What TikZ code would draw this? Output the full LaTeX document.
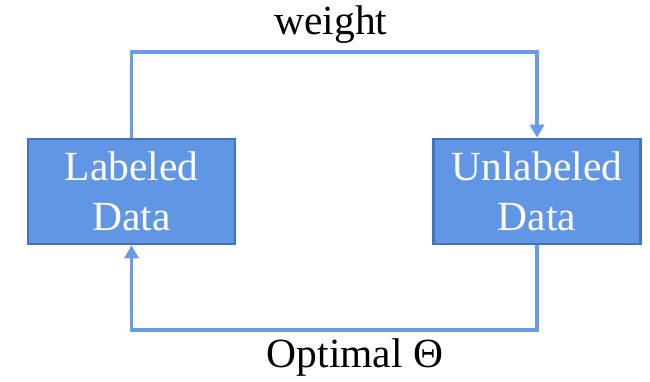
\documentclass[tikz,border=0pt]{standalone}
\usepackage{fontspec}
\setmainfont{Liberation Serif}
\usetikzlibrary{arrows.meta}
\definecolor{boxfill}{RGB}{96,150,228}
\definecolor{boxline}{RGB}{70,114,188}
\definecolor{conn}{RGB}{104,156,232}
\tikzset{
  databox/.style={draw=boxline, line width=2.6pt, fill=boxfill, text=white,
    minimum width=207pt, minimum height=105pt, align=center, inner sep=0pt,
    font=\fontsize{41.5}{50}\selectfont},
  conn/.style={draw=conn, line width=3.4pt,
    -{Triangle[width=14pt,length=13pt]}},
  lbl/.style={font=\fontsize{41.5}{50}\selectfont, inner sep=0pt}
}
\begin{document}
\begin{tikzpicture}[x=1pt,y=-1pt]
\useasboundingbox (0,0) rectangle (650,381);
\node[databox] (L) at (131.5,191.5) {Labeled\\Data};
\node[databox] (R) at (537,191.5) {Unlabeled\\Data};
\coordinate (tr) at (537,52);
\coordinate (bl) at (131.5,330);
\draw[conn] (L.north) |- (tr) -- (R.north);
\draw[conn] (R.south) |- (bl) -- (L.south);
\node[lbl] (w) at (331,25) {weight};
\node[lbl] (o) at (355,358) {Optimal Θ};
\end{tikzpicture}
\end{document}
